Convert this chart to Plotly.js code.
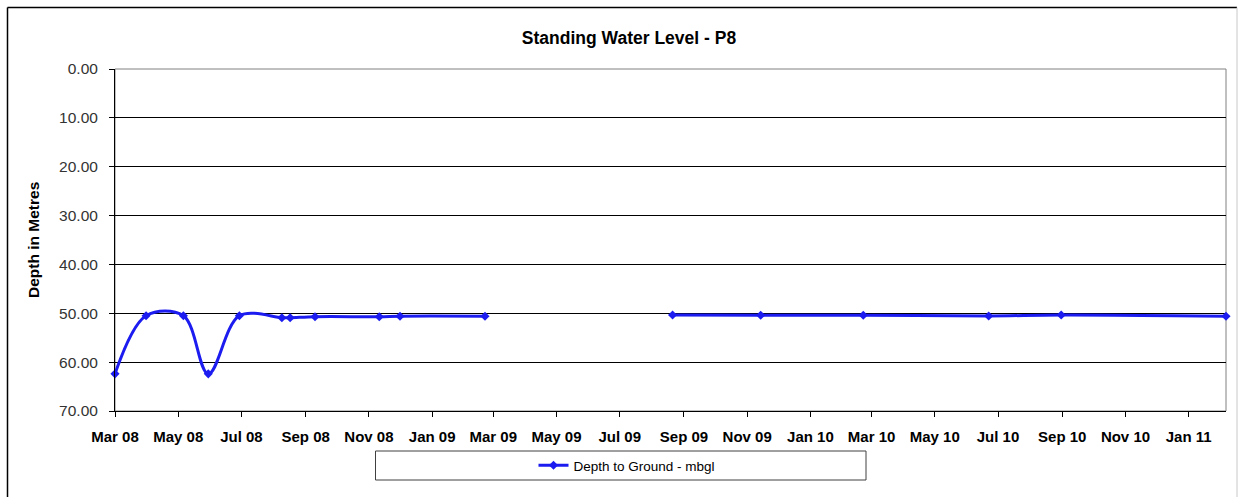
<!DOCTYPE html>
<html>
<head>
<meta charset="utf-8">
<script src="https://cdn.plot.ly/plotly-3.0.1.min.js"></script>
<style>html,body{margin:0;padding:0;background:#fff;}#chart{width:1242px;height:497px;}</style>
</head>
<body>
<div id="chart"></div>
<script>
// Reading dates (a null marks the period with no readings)
const dates = [
  "2008-03-01", "2008-03-31", "2008-05-06", "2008-05-30", "2008-06-29",
  "2008-08-09", "2008-08-17", "2008-09-10", "2008-11-11", "2008-12-01",
  "2009-02-21",
  "2009-05-15",
  "2009-08-21", "2009-11-14", "2010-02-21", "2010-06-22", "2010-08-31",
  "2011-02-06"
];
// Depth to ground (m below ground level)
const depth = [
  62.4, 50.5, 50.5, 62.4, 50.5,
  50.9, 50.9, 50.7, 50.7, 50.6,
  50.6,
  null,
  50.35, 50.4, 50.4, 50.55, 50.35,
  50.6
];
const seriesName = "Depth to Ground - mbgl";
const chartTitle = "Standing Water Level - P8";
const yTitle = "Depth in Metres";

const blue = "rgb(28,28,240)";
const FONT = "Arial, 'Liberation Sans', sans-serif";

const trace = {
  x: dates,
  y: depth,
  name: seriesName,
  type: "scatter",
  mode: "lines+markers",
  connectgaps: false,
  cliponaxis: false,
  line: {color: blue, width: 3, shape: "spline", smoothing: 1},
  marker: {symbol: "diamond", size: 7, color: blue},
  showlegend: true
};

const layout = {
  width: 1242,
  height: 497,
  margin: {l: 115, r: 16, t: 69, b: 86},
  paper_bgcolor: "#ffffff",
  plot_bgcolor: "#ffffff",
  font: {family: FONT, color: "#000"},
  title: {
    text: "<b>" + chartTitle + "</b>",
    font: {size: 17.5, color: "#000", family: FONT},
    xref: "container", x: 629 / 1242, xanchor: "center",
    yref: "container", y: 1 - 38/497, yanchor: "middle"
  },
  xaxis: {
    type: "date",
    range: [dates[0], dates[dates.length - 1]],
    tick0: dates[0],
    dtick: "M2",
    tickformat: "%b %y",
    showgrid: false,
    zeroline: false,
    showline: true,
    linecolor: "#000",
    linewidth: 1,
    ticks: "outside",
    ticklen: 5,
    tickcolor: "#000",
    ticklabelstandoff: 7,
    tickfont: {size: 15, color: "#000", family: FONT, weight: "bold"}
  },
  yaxis: {
    range: [70, 0],
    dtick: 10,
    tick0: 0,
    tickformat: ".2f",
    showgrid: true,
    gridcolor: "#000",
    gridwidth: 1,
    zeroline: false,
    showline: true,
    linecolor: "#000",
    linewidth: 1,
    ticks: "outside",
    ticklen: 5,
    tickcolor: "#000",
    ticklabelstandoff: 8,
    tickfont: {size: 15.5, color: "#333", family: FONT}
  },
  showlegend: true,
  legend: {
    orientation: "h",
    xref: "paper", x: (627 - 115) / 1111, xanchor: "center",
    yref: "paper", y: (411 - 465.5) / 342, yanchor: "middle",
    bgcolor: "rgba(0,0,0,0)",
    borderwidth: 0,
    font: {size: 13.5, color: "#000", family: FONT},
    itemwidth: 30
  },
  annotations: [{
    text: "<b>" + yTitle + "</b>",
    xref: "paper", x: (33 - 115) / 1111, xanchor: "center",
    yref: "paper", y: 0.5, yanchor: "middle",
    textangle: -90,
    showarrow: false,
    font: {size: 15.5, color: "#000", family: FONT}
  }],
  shapes: [
    // plot area border (top/right grey)
    {type: "rect", xref: "paper", yref: "paper", x0: 0, x1: 1, y0: 0, y1: 1,
     line: {color: "#808080", width: 1}, layer: "below"},
    // legend box
    {type: "rect", xref: "paper", yref: "paper",
     x0: (375.5 - 115) / 1111, x1: (866 - 115) / 1111,
     y0: (411 - 480) / 342, y1: (411 - 451) / 342,
     line: {color: "#404040", width: 1}, fillcolor: "rgba(0,0,0,0)"},
    // outer chart border
    {type: "line", xref: "paper", yref: "paper",
     x0: (7.5 - 115) / 1111, x1: (7.5 - 115) / 1111, y0: (411 - 7.5) / 342, y1: (411 - 500) / 342,
     line: {color: "#000", width: 1.5}},
    {type: "line", xref: "paper", yref: "paper",
     x0: (7.5 - 115) / 1111, x1: (1237 - 115) / 1111, y0: (411 - 7.5) / 342, y1: (411 - 7.5) / 342,
     line: {color: "#000", width: 1.5}},
    {type: "line", xref: "paper", yref: "paper",
     x0: (1237 - 115) / 1111, x1: (1237 - 115) / 1111, y0: (411 - 7.5) / 342, y1: (411 - 500) / 342,
     line: {color: "#c8c8c8", width: 1}}
  ]
};

Plotly.newPlot("chart", [trace], layout, {displayModeBar: false, staticPlot: true});
</script>
</body>
</html>
